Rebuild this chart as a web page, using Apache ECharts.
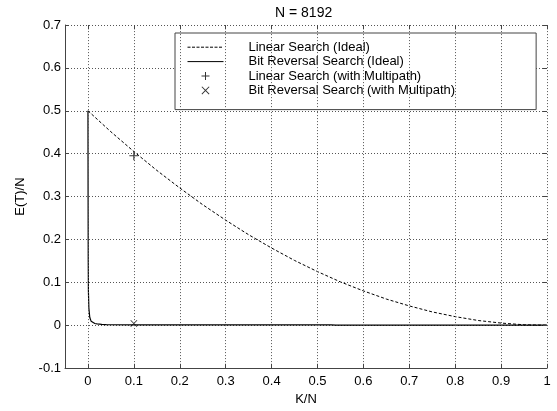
<!DOCTYPE html>
<html>
<head>
<meta charset="utf-8">
<script src="https://cdn.jsdelivr.net/npm/echarts@6/dist/echarts.min.js"></script>
<style>
  html, body { margin: 0; padding: 0; background: #fff; }
  #chart { width: 557px; height: 411px; }
</style>
</head>
<body>
<div id="chart"></div>
<script>
// linear search (ideal)
const linX = [0, 0.05, 0.1, 0.15, 0.2, 0.25, 0.3, 0.35, 0.4, 0.45, 0.5, 0.55, 0.6, 0.65, 0.7, 0.75, 0.8, 0.85, 0.9, 0.95, 1];
const linY = [0.5, 0.451, 0.405, 0.361, 0.32, 0.281, 0.245, 0.211, 0.18, 0.151, 0.125, 0.101, 0.08, 0.061, 0.045, 0.031, 0.02, 0.011, 0.005, 0.001, 0];

// bit reversal search (ideal), solid curve
const bitX = [0, 0.0003, 0.0006, 0.001, 0.002, 0.004, 0.007, 0.01, 0.015, 0.02, 0.03, 0.04, 0.1, 0.3, 0.53, 0.54, 1];
const bitY = [0.5, 0.3, 0.15, 0.08, 0.04, 0.018, 0.009, 0.006, 0.004, 0.003, 0.002, 0.0015, 0.001, 0.001, 0.001, 0, 0];

// multipath points
const mpX = [0.1];
const linMpY = [0.395];
const bitMpY = [0.004];

// tick positions of the x axis (axis itself starts at -0.05)
const xTicks = [0, 0.1, 0.2, 0.3, 0.4, 0.5, 0.6, 0.7, 0.8, 0.9, 1];
const yTicks = [-0.1, 0, 0.1, 0.2, 0.3, 0.4, 0.5, 0.6, 0.7];

const names = [
  'Linear Search (Ideal)',
  'Bit Reversal Search (Ideal)',
  'Linear Search (with Multipath)',
  'Bit Reversal Search (with Multipath)'
];

const font = 'Liberation Sans, Arial, sans-serif';
const plusPath = 'path://M3.5 0h1v8h-1zM0 3.5h8v1h-8z';
const crossPath = 'path://M0 0.7L0.7 0L8 7.3L7.3 8ZM7.3 0L8 0.7L0.7 8L0 7.3Z';

const zip = (xs, ys) => xs.map((x, i) => [x, ys[i]]);

const dotted = { color: '#555', type: [1, 2], width: 1 };
const solid = { color: '#444', type: 'solid', width: 1 };

// vertical grid lines + inward tick marks on bottom/top, right-side y ticks
const guides = [];
xTicks.forEach(v => {
  guides.push({ xAxis: v, lineStyle: dotted });
  guides.push([{ coord: [v, -0.1], lineStyle: solid }, { coord: [v, -0.09] }]);
  guides.push([{ coord: [v, 0.7], lineStyle: solid }, { coord: [v, 0.69] }]);
});
yTicks.forEach(v => {
  guides.push([{ coord: [1, v], lineStyle: solid }, { coord: [0.991, v] }]);
});

const hiddenSym = { color: 'rgba(0,0,0,0)', borderWidth: 0 };

const option = {
  backgroundColor: '#fff',
  animation: false,
  title: {
    text: 'N = 8192',
    left: 270,
    top: 1,
    textStyle: { fontFamily: font, fontSize: 14, fontWeight: 'normal', color: '#000' }
  },
  grid: { left: 65, right: 10, top: 25, bottom: 37 },
  legend: {
    data: [
      { name: names[0], itemStyle: hiddenSym, lineStyle: { width: 1, type: [3, 1.5], color: '#000' } },
      { name: names[1], itemStyle: hiddenSym, lineStyle: { width: 1, color: '#000' } },
      { name: names[2] },
      { name: names[3] }
    ],
    orient: 'vertical',
    left: 175,
    top: 33,
    padding: [7, 81, 12, 12],
    itemWidth: 36,
    itemHeight: 8,
    itemGap: 0,
    selectedMode: false,
    backgroundColor: '#fff',
    borderColor: '#444',
    borderWidth: 1,
    borderRadius: 0,
    textStyle: { fontFamily: font, fontSize: 13, color: '#000', lineHeight: 14.4, padding: [0, 0, 0, 20] }
  },
  xAxis: {
    type: 'value',
    min: -0.05,
    max: 1,
    interval: 0.05,
    name: 'K/N',
    nameLocation: 'middle',
    nameGap: 20,
    nameTextStyle: { fontFamily: font, fontSize: 13, color: '#000' },
    axisLine: { onZero: false, lineStyle: { color: '#444' } },
    axisTick: { show: false },
    axisLabel: {
      fontFamily: font, fontSize: 13, color: '#000', margin: 7,
      formatter: v => {
        const k = Math.round(v * 10);
        return (v > -1e-9 && Math.abs(v * 10 - k) < 1e-6) ? String(k / 10) : '';
      }
    },
    splitLine: { show: false }
  },
  yAxis: {
    type: 'value',
    min: -0.1,
    max: 0.7,
    interval: 0.1,
    name: 'E(T)/N',
    nameLocation: 'middle',
    nameGap: 38,
    nameTextStyle: { fontFamily: font, fontSize: 13, color: '#000' },
    axisLine: { onZero: false, lineStyle: { color: '#444' } },
    axisTick: { inside: true, length: 4, lineStyle: { color: '#444' } },
    axisLabel: { fontFamily: font, fontSize: 13, color: '#000', margin: 4 },
    splitLine: { show: true, lineStyle: dotted }
  },
  series: [
    {
      name: names[0],
      type: 'line',
      data: zip(linX, linY),
      symbol: 'none',
      lineStyle: { color: '#000', width: 1, type: [3, 2] },
      itemStyle: { color: '#000' },
      markLine: {
        silent: true,
        symbol: ['none', 'none'],
        label: { show: false },
        emphasis: { disabled: true },
        data: guides
      }
    },
    {
      name: names[1],
      type: 'line',
      data: zip(bitX, bitY),
      symbol: 'none',
      lineStyle: { color: '#000', width: 1.2 },
      itemStyle: { color: '#000' }
    },
    {
      name: names[2],
      type: 'scatter',
      data: zip(mpX, linMpY),
      symbol: plusPath,
      symbolSize: 9,
      itemStyle: { color: '#000' }
    },
    {
      name: names[3],
      type: 'scatter',
      data: zip(mpX, bitMpY),
      symbol: crossPath,
      symbolSize: 7,
      itemStyle: { color: '#000' }
    }
  ]
};

const chart = echarts.init(document.getElementById('chart'));
chart.setOption(option);
</script>
</body>
</html>
